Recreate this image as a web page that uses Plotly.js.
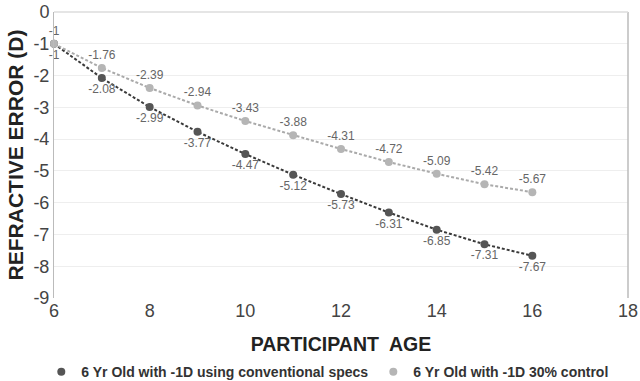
<!DOCTYPE html>
<html><head><meta charset="utf-8">
<script src="https://cdn.plot.ly/plotly-3.0.1.min.js"></script>
<style>body{margin:0;background:#fff}#c{width:640px;height:381px}</style>
</head><body><div id="c"></div>
<script>
const ages = [6,7,8,9,10,11,12,13,14,15,16];
const conventional = [-1,-2.08,-2.99,-3.77,-4.47,-5.12,-5.73,-6.31,-6.85,-7.31,-7.67];
const control = [-1,-1.76,-2.39,-2.94,-3.43,-3.88,-4.31,-4.72,-5.09,-5.42,-5.67];
const names = ['6 Yr Old with -1D using conventional specs','6 Yr Old with -1D 30% control'];
const xTicks = [6,8,10,12,14,16,18];
const yTicks = [0,-1,-2,-3,-4,-5,-6,-7,-8,-9];

const fontFam = 'Liberation Sans, Arial, sans-serif';
const darkC = '#555', lightC = '#b5b5b5';
const traces = [
  {x: ages, y: conventional, mode: 'lines', showlegend: false,
   line: {color: '#3a3a3a', width: 2, dash: '3px,2px'}},
  {x: ages, y: control, mode: 'lines', showlegend: false,
   line: {color: '#aaa', width: 2, dash: '3px,2px'}},
  {x: ages, y: conventional, name: names[0], mode: 'markers+text',
   text: conventional.map(String), textposition: 'bottom center',
   textfont: {size: 12, color: '#666', family: fontFam},
   marker: {size: 8, color: darkC}, cliponaxis: false},
  {x: ages, y: control, name: names[1], mode: 'markers+text',
   text: control.map(String), textposition: 'top center',
   textfont: {size: 12, color: '#666', family: fontFam},
   marker: {size: 8, color: lightC}, cliponaxis: false}
];
const layout = {
  width: 640, height: 381,
  margin: {l: 54, r: 12, t: 12, b: 83, autoexpand: false},
  paper_bgcolor: '#fff', plot_bgcolor: '#fff',
  showlegend: true,
  legend: {orientation: 'h', x: 0.477, xanchor: 'center', y: -0.259, yanchor: 'middle',
           font: {size: 14, color: '#333', family: fontFam, weight: 'bold'}, itemwidth: 30, traceorder: 'normal'},
  xaxis: {range: [6, 18], tickvals: xTicks, ticktext: xTicks.map(String),
          tickfont: {size: 18, color: '#444', family: fontFam},
          showgrid: false, zeroline: false, showline: false,
          ticks: '', automargin: false,
          title: {text: 'PARTICIPANT  AGE', font: {size: 19.5, color: '#222', family: fontFam, weight: 'bold'}, standoff: 17}},
  yaxis: {range: [-9, 0], tickvals: yTicks, ticktext: yTicks.map(String),
          tickfont: {size: 18, color: '#444', family: fontFam},
          showgrid: true, gridcolor: '#eee', zeroline: false, showline: true, linecolor: '#bbb',
          ticks: '', automargin: false,
          title: {text: 'REFRACTIVE ERROR (D)', font: {size: 21, color: '#222', family: fontFam, weight: 'bold'}, standoff: 4}},
  shapes: [
    {type: 'line', xref: 'paper', yref: 'paper', x0: 1, x1: 1, y0: 0, y1: 1, line: {color: '#bbb', width: 1.5}},
    {type: 'line', xref: 'paper', yref: 'paper', x0: 0, x1: 1, y0: 1, y1: 1, line: {color: '#ddd', width: 1.5}}
  ]
};
Plotly.newPlot('c', traces, layout, {displayModeBar: false, staticPlot: true});
</script>
</body></html>
